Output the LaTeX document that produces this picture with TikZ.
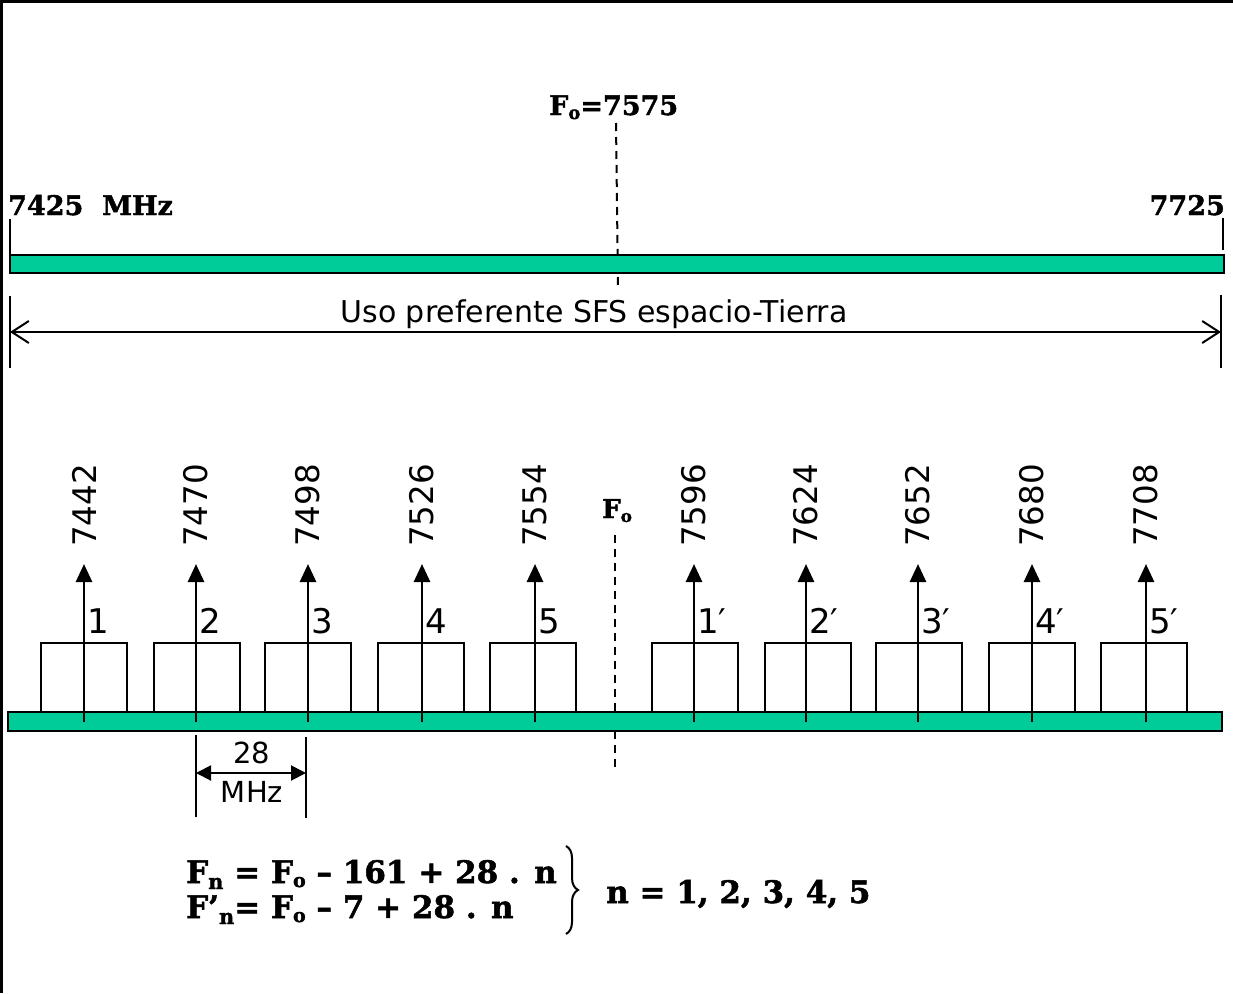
\documentclass[tikz,border=0pt]{standalone}
\usepackage{fontspec}
\setmainfont{DejaVu Sans}
\newfontfamily\hvfont{DejaVu Serif}[UprightFont={* Bold}, UprightFeatures={FakeBold=1.6}]
\usetikzlibrary{arrows.meta,decorations.pathreplacing}
\definecolor{bandgreen}{HTML}{00CC99}
\newcommand{\subx}[2]{\raisebox{#2}{\fontsize{#1}{#1}\selectfont o}}
\newcommand{\subn}[2]{\raisebox{#2}{\fontsize{#1}{#1}\selectfont n}}
\tikzset{
  band/.style={draw=black, fill=bandgreen, line width=2.5pt},
  tick/.style={line width=1.6pt},
  chbox/.style={draw=black, line width=1.8pt, minimum width=86pt, minimum height=69pt, inner sep=0pt},
  carrier/.style={line width=2.8pt, -{Triangle[length=18pt,width=16pt]}},
  freq/.style={rotate=90, inner sep=0pt, font=\fontsize{32.5}{32.5}\selectfont},
  chlab/.style={inner sep=0pt, font=\fontsize{34}{34}\selectfont},
  heavy/.style={inner sep=0pt, font=\hvfont\fontsize{27}{27}\selectfont},
  centre/.style={dashed, dash pattern=on 8pt off 6pt, line width=2pt},
  dimline/.style={line width=2pt, {Triangle[length=15pt,width=15pt]}-{Triangle[length=15pt,width=15pt]}},
}
\begin{document}
\begin{tikzpicture}[x=1pt,y=-1pt]
\useasboundingbox (0,0) rectangle (1233,993);
% frame
\draw[line width=3pt] (1.5,993) -- (1.5,1.5) -- (1233,1.5);

% ---- upper band ----
\node[heavy, anchor=base west] (f0top) at (549,115) {F\subx{18}{-4pt}=7575};
\coordinate (ctop1) at (616,123);
\coordinate (ctop2) at (618,287);
\draw[centre] (ctop1) -- (ctop2);
\draw[band] (10,255) rectangle (1224,273);
\node[heavy, anchor=base west] (lowedge) at (8,215) {7425\ \ MHz};
\node[heavy, anchor=base east] (highedge) at (1225,215) {7725};
\coordinate (tl1) at (10,219); \coordinate (tl2) at (10,254);
\coordinate (tr1) at (1223,218); \coordinate (tr2) at (1223,250);
\draw[tick] (tl1) -- (tl2);
\draw[tick] (tr1) -- (tr2);
% span arrow
\coordinate (sl1) at (10,296); \coordinate (sl2) at (10,368);
\coordinate (sr1) at (1221,295); \coordinate (sr2) at (1221,368);
\draw[tick] (sl1) -- (sl2);
\draw[tick] (sr1) -- (sr2);
\coordinate (sa) at (10,332); \coordinate (sb) at (1221,332);
\draw[line width=2pt, {Straight Barb[length=17pt,width=22pt,line width=2pt]}-{Straight Barb[length=17pt,width=22pt,line width=2pt]}] (sa) -- (sb);
\node[inner sep=0pt, anchor=base, font=\fontsize{30}{30}\selectfont] (uso) at (594,322) {Uso preferente SFS espacio-Tierra};

% ---- lower band ----
\node[heavy, anchor=base west, font=\hvfont\fontsize{26}{26}\selectfont] (f0low) at (602,518) {F\subx{17}{-4pt}};
\coordinate (clow1) at (615,535);
\coordinate (clow2) at (615,768);
\draw[centre] (clow1) -- (clow2);
\foreach \bx/\ax/\lab/\fr [count=\i] in {41/84/1/7442,154/196/2/7470,265/308/3/7498,378/422/4/7526,490/535/5/7554,652/694/1′/7596,765/806/2′/7624,876/918/3′/7652,989/1032/4′/7680,1101/1146/5′/7708}{
  \node[chbox] (box\i) at (\bx+43,677.5) {};
}
\draw[band] (8,712) rectangle (1222,731);
\foreach \bx/\ax/\lab/\fr [count=\i] in {41/84/1/7442,154/196/2/7470,265/308/3/7498,378/422/4/7526,490/535/5/7554,652/694/1′/7596,765/806/2′/7624,876/918/3′/7652,989/1032/4′/7680,1101/1146/5′/7708}{
  \coordinate (base\i) at (\ax,722);
  \coordinate (tip\i) at (\ax,564);
  \draw[carrier] (base\i) -- (tip\i);
  \node[freq, anchor=west] (fr\i) at (\ax,547) {\fr};
  \node[chlab, anchor=base west] (lab\i) at (\ax+3,633) {\lab};
}
% 28 MHz spacing
\coordinate (d1a) at (196,735); \coordinate (d1b) at (196,817);
\coordinate (d2a) at (306,737); \coordinate (d2b) at (306,818);
\draw[tick] (d1a) -- (d1b);
\draw[tick] (d2a) -- (d2b);
\coordinate (da) at (196,773); \coordinate (db) at (306,773);
\draw[dimline] (da) -- (db);
\node[inner sep=0pt, anchor=base, font=\fontsize{29}{29}\selectfont] (d28) at (252,763) {28};
\node[inner sep=0pt, anchor=base, font=\fontsize{29}{29}\selectfont] (dmhz) at (252,802) {MHz};

% formulas
\node[heavy, anchor=base west, font=\hvfont\fontsize{31}{31}\selectfont] (eq1) at (186,883) {F\subn{21}{-6pt} = F\subx{19}{-4pt} – 161 + 28 . n};
\node[heavy, anchor=base west, font=\hvfont\fontsize{31}{31}\selectfont] (eq2) at (186,918) {F’\subn{21}{-6pt}= F\subx{19}{-4pt} – 7 + 28 . n};
\coordinate (br1) at (566,846); \coordinate (br2) at (566,934);
\draw[line width=2pt, decorate, decoration={brace, amplitude=12pt}] (br1) -- (br2);
\node[heavy, anchor=base west, font=\hvfont\fontsize{31}{31}\selectfont] (nrange) at (606,903) {n = 1, 2, 3, 4, 5};
\end{tikzpicture}
\end{document}
